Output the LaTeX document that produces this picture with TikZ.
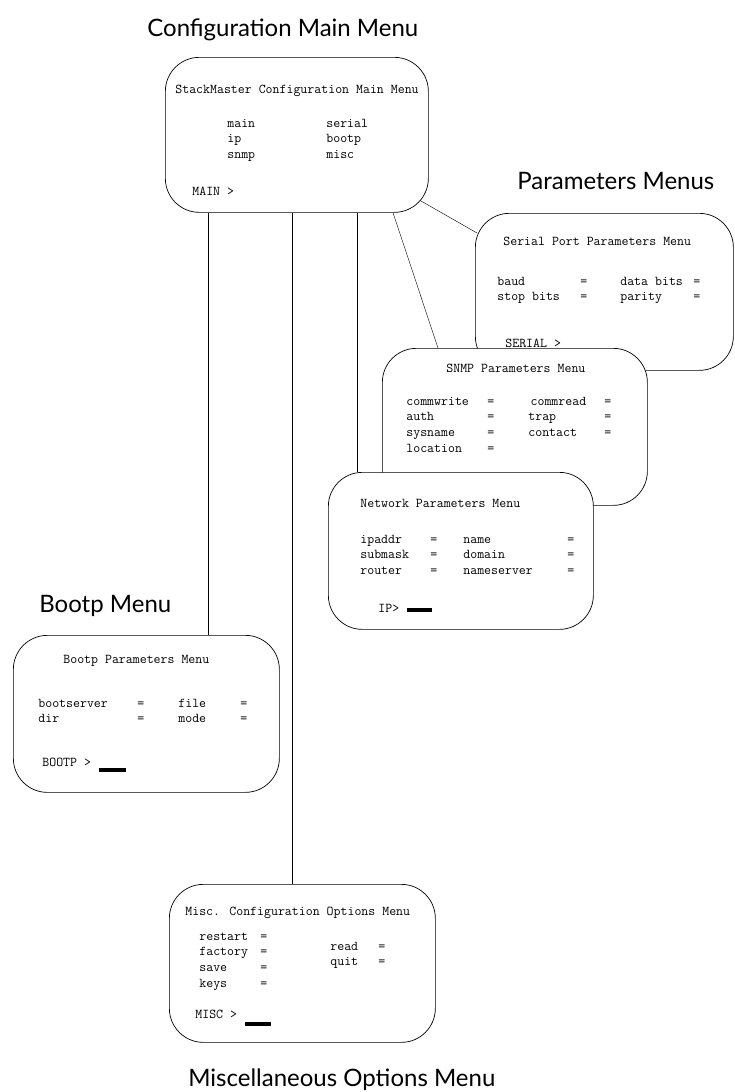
\documentclass[tikz,border=0pt]{standalone}
\usepackage{fontspec}
\newfontfamily\headfont{Lato}
\usepackage{tikz}
\usetikzlibrary{positioning, calc, backgrounds}

\tikzset{
  menubox/.style = {draw, fill=white, rounded corners=34pt, line width=0.7pt,
    minimum width=265pt, minimum height=157pt, inner sep=0pt, anchor=north west},
  heading/.style = {font=\headfont\fontsize{24}{28}\selectfont, anchor=base west, inner sep=0pt},
  term/.style = {font=\ttfamily\fontsize{13.5}{15.7}\selectfont, anchor=base west, inner sep=0pt},
  cursor/.style = {fill=black, minimum width=25pt, minimum height=4pt, inner sep=0pt, anchor=north west},
}

\begin{document}
\begin{tikzpicture}[x=1pt, y=-1pt, line width=0.7pt]
    \useasboundingbox (0,0) rectangle (734,1092);

    % headings
    \node[heading] (hmain) at (147,36) {Configuration Main Menu};
    \node[heading] (hpar) at (517,189) {Parameters Menus};
    \node[heading] (hboot) at (39,612) {Bootp Menu};
    \node[heading] (hmisc) at (188,1086) {Miscellaneous Options Menu};

    % main menu
    \node[menubox, minimum width=263pt, minimum height=155pt] (main) at (165,57) {};
    \node[term] (maintitle) at (175,93) {StackMaster Configuration Main Menu};
    \node[term] (mainrows) at (227,127) {\begin{tabular}[t]{@{}p{99pt}@{}l@{}}
        main & serial\\ ip & bootp\\ snmp & misc\end{tabular}};
    \node[term] (mainprompt) at (192,195) {MAIN >};

    % serial port
    \node[menubox, minimum width=258pt] (ser) at (475,213) {};
    \node[term] (sertitle) at (503,245) {Serial Port Parameters Menu};
    \node[term] (serrows) at (497,285) {\begin{tabular}[t]{@{}p{83pt}@{}p{40pt}@{}p{73pt}@{}l@{}}
        baud & = & data bits & =\\ stop bits & = & parity & =\end{tabular}};
    \node[term] (serprompt) at (505,347) {SERIAL >};

    % snmp
    \node[menubox] (snmp) at (382,348) {};
    \node[term] (snmptitle) at (446,372) {SNMP Parameters Menu};
    \node[term] (snmprows) at (406,405) {\begin{tabular}[t]{@{}p{81pt}@{}p{41pt}@{}p{76pt}@{}l@{}}
        commwrite & = & \,commread & =\\ auth & = & trap & =\\
        sysname & = & contact & =\\ location & = & & \end{tabular}};

    % network
    \node[menubox] (net) at (328,472) {};
    \node[term] (nettitle) at (360,507) {Network Parameters Menu};
    \node[term] (netrows) at (360,543) {\begin{tabular}[t]{@{}p{70pt}@{}p{33pt}@{}p{104pt}@{}l@{}}
        ipaddr & = & name & =\\ submask & = & domain & =\\
        router & = & nameserver & =\end{tabular}};
    \node[term] (netprompt) at (378,612) {IP>};
    \node[cursor] (netcur) at (407,608) {};

    % bootp
    \node[menubox, minimum width=266pt] (boot) at (13,635) {};
    \node[term] (boottitle) at (63,663) {Bootp Parameters Menu};
    \node[term] (bootrows) at (38,707) {\begin{tabular}[t]{@{}p{99pt}@{}p{41pt}@{}p{62pt}@{}l@{}}
        bootserver & = & file & =\\ dir & = & mode & =\end{tabular}};
    \node[term] (bootprompt) at (42,766) {BOOTP >};
    \node[cursor, minimum width=27pt] (bootcur) at (99,768) {};

    % misc
    \node[menubox, minimum width=266pt, minimum height=158pt] (misc) at (169,884) {};
    \node[term] (misctitle) at (185,915) {Misc. Configuration Options Menu};
    \node[term] (miscleft) at (199,940) {\begin{tabular}[t]{@{}p{61pt}@{}l@{}}
        restart & =\\ factory & =\\ save & =\\ keys & =\end{tabular}};
    \node[term] (miscright) at (330,950) {\begin{tabular}[t]{@{}p{48pt}@{}l@{}}
        read & =\\ quit & =\end{tabular}};
    \node[term] (miscprompt) at (195,1018) {MISC >};
    \node[cursor, minimum width=26pt] (misccur) at (245,1022) {};

    % links behind the menus
    \coordinate (xboot) at (208,0);
    \coordinate (xmisc) at (292,0);
    \coordinate (xnet) at (357,0);
    \coordinate (xsnmpa) at (393,0);
    \coordinate (xsnmpb) at (438,0);
    \begin{scope}[on background layer]
        \draw (xboot |- main.south) -- (xboot |- boot.north);
        \draw (xmisc |- main.south) -- (xmisc |- misc.north);
        \draw (xnet |- main.south) -- (xnet |- net.north);
        \draw (xsnmpa |- main.south) -- (xsnmpb |- snmp.north);
        \draw ($(main.south east)+(-10,-13)$) -- ($(ser.north west)+(2,20)$);
    \end{scope}
\end{tikzpicture}
\end{document}
